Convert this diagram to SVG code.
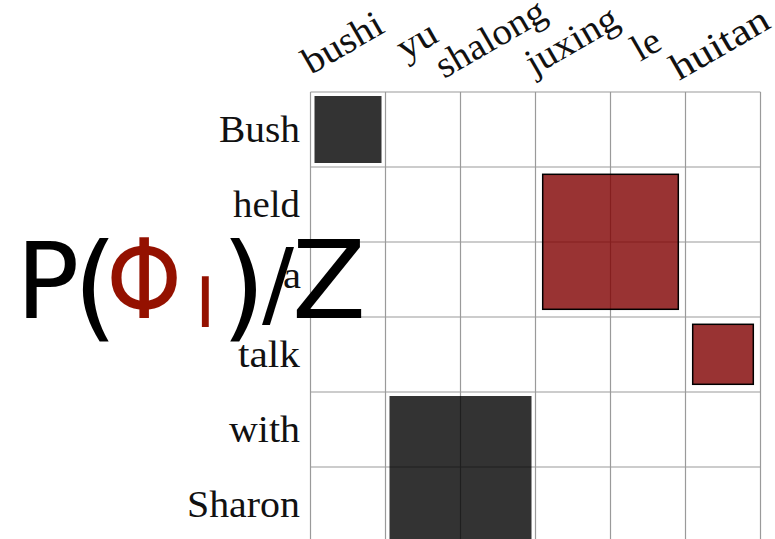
<svg xmlns="http://www.w3.org/2000/svg" width="775" height="539" viewBox="0 0 775 539">
<style>
.grid line{stroke:#9a9a9a;stroke-width:1.2}
.lbl{font-family:"Liberation Serif","Times New Roman",serif;font-size:37.5px;fill:#111}
.row{text-anchor:end}
.blk{fill:#000;fill-opacity:0.8}
.red{fill:#800000;fill-opacity:0.8;stroke:#000;stroke-width:1.5}
.big{font-family:"DejaVu Sans",sans-serif;fill:#000}
.phi{fill:#941100}
</style>
<rect width="775" height="539" fill="#fff"/>
<g id="grid" class="grid">
<line x1="310.5" y1="92" x2="310.5" y2="539"/>
<line x1="385.5" y1="92" x2="385.5" y2="539"/>
<line x1="460.5" y1="92" x2="460.5" y2="539"/>
<line x1="535.5" y1="92" x2="535.5" y2="539"/>
<line x1="610.5" y1="92" x2="610.5" y2="539"/>
<line x1="685.5" y1="92" x2="685.5" y2="539"/>
<line x1="760.5" y1="92" x2="760.5" y2="539"/>
<line x1="310.5" y1="92" x2="760.5" y2="92"/>
<line x1="310.5" y1="167" x2="760.5" y2="167"/>
<line x1="310.5" y1="242" x2="760.5" y2="242"/>
<line x1="310.5" y1="317" x2="760.5" y2="317"/>
<line x1="310.5" y1="392" x2="760.5" y2="392"/>
<line x1="310.5" y1="467" x2="760.5" y2="467"/>
</g>
<g id="block-bush-bushi"><rect class="blk" x="314.5" y="96" width="67" height="67"/></g>
<g id="block-held-juxing"><rect class="red" x="542.7" y="174.3" width="135.6" height="135"/></g>
<g id="block-talk-huitan"><rect class="red" x="692.7" y="324.3" width="60.6" height="60"/></g>
<g id="block-with-yu"><rect class="blk" x="389.5" y="396" width="142" height="150"/></g>
<g id="row-labels" class="lbl row">
<text x="300" y="142" textLength="81" lengthAdjust="spacingAndGlyphs">Bush</text>
<text x="300" y="217" textLength="67" lengthAdjust="spacingAndGlyphs">held</text>
<text x="301" y="288" textLength="18" lengthAdjust="spacingAndGlyphs">a</text>
<text x="300" y="367" textLength="62" lengthAdjust="spacingAndGlyphs">talk</text>
<text x="300" y="442" textLength="71" lengthAdjust="spacingAndGlyphs">with</text>
<text x="300" y="517" textLength="113" lengthAdjust="spacingAndGlyphs">Sharon</text>
</g>
<g id="col-labels" class="lbl">
<text transform="translate(311,75) rotate(-30)" textLength="87" lengthAdjust="spacingAndGlyphs">bushi</text>
<text transform="translate(405,61) rotate(-30)" textLength="41" lengthAdjust="spacingAndGlyphs">yu</text>
<text transform="translate(444,79) rotate(-30)" textLength="121" lengthAdjust="spacingAndGlyphs">shalong</text>
<text transform="translate(534,76) rotate(-30)" textLength="101" lengthAdjust="spacingAndGlyphs">juxing</text>
<text transform="translate(640,62) rotate(-30)" textLength="28" lengthAdjust="spacingAndGlyphs">le</text>
<text transform="translate(679,81) rotate(-30)" textLength="108" lengthAdjust="spacingAndGlyphs">huitan</text>
</g>
<g id="formula" class="big">
<text x="16" y="318" font-size="105">P</text>
<text x="73" y="326" font-size="115">(</text>
<text class="phi" transform="translate(106,318) scale(0.88,1)" font-size="110">Φ</text>
<text class="phi" x="195" y="327" font-size="70">I</text>
<text x="221" y="326" font-size="115">)</text>
<text x="262" y="316" font-size="95">/</text>
<text x="292" y="318" font-size="108">Z</text>
</g>
</svg>
